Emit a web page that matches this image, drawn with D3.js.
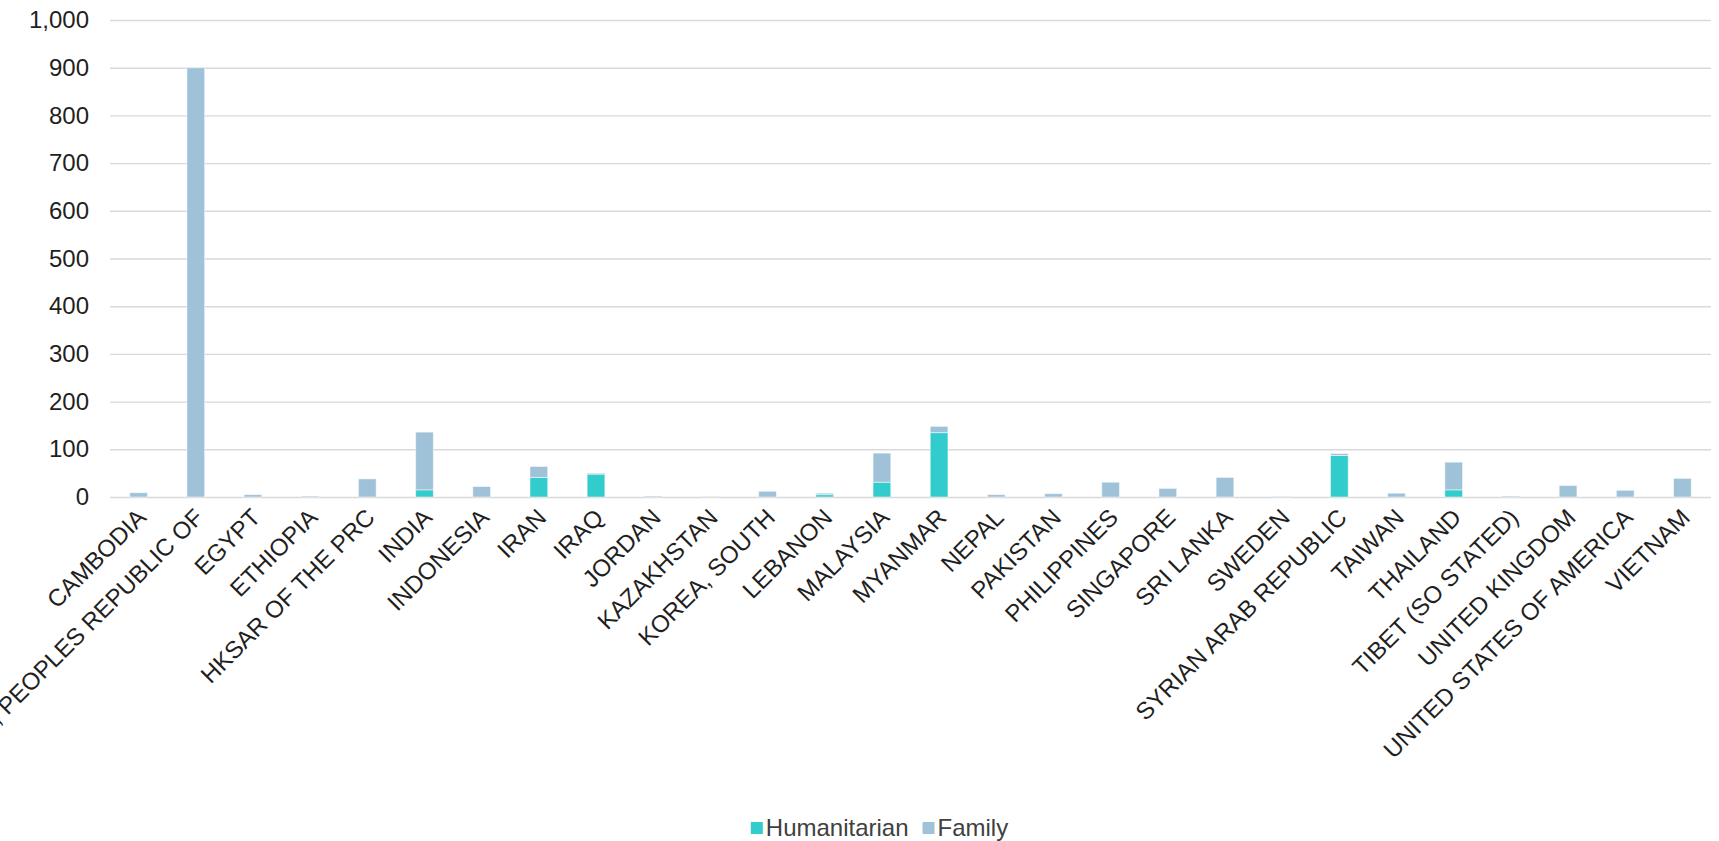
<!DOCTYPE html>
<html>
<head>
<meta charset="utf-8">
<script src="https://cdn.jsdelivr.net/npm/d3@7"></script>
<style>
  html, body { margin: 0; padding: 0; background: #fff; }
  svg { display: block; font-family: "Liberation Sans", Arial, sans-serif; }
</style>
</head>
<body>
<svg id="chart" width="1719" height="841"></svg>
<script>
const categories = ["CAMBODIA", "CHINA, PEOPLES REPUBLIC OF", "EGYPT", "ETHIOPIA", "HKSAR OF THE PRC",
  "INDIA", "INDONESIA", "IRAN", "IRAQ", "JORDAN", "KAZAKHSTAN", "KOREA, SOUTH", "LEBANON",
  "MALAYSIA", "MYANMAR", "NEPAL", "PAKISTAN", "PHILIPPINES", "SINGAPORE", "SRI LANKA", "SWEDEN",
  "SYRIAN ARAB REPUBLIC", "TAIWAN", "THAILAND", "TIBET (SO STATED)", "UNITED KINGDOM",
  "UNITED STATES OF AMERICA", "VIETNAM"];
const humanitarian = [0, 0, 0, 0, 0, 15, 0, 41, 48, 0, 0, 0, 5, 31, 135, 0, 0, 0, 0, 0, 0, 87, 0, 15, 0, 0, 0, 0];
const family =       [9, 900, 5, 2, 38, 121, 22, 23, 2, 2, 1, 12, 3, 61, 13, 5, 7, 31, 18, 41, 1, 4, 8, 58, 2, 24, 14, 39];
const seriesNames = ["Humanitarian", "Family"];
const seriesColors = ["#33CCCC", "#9FC2D8"];
const yTicks = [0, 100, 200, 300, 400, 500, 600, 700, 800, 900, 1000];

const svg = d3.select("#chart");
const margin = { left: 110, right: 8, top: 20, bottom: 344 };
const W = 1719, H = 841;
const iw = W - margin.left - margin.right;
const ih = H - margin.top - margin.bottom;
const g = svg.append("g").attr("transform", `translate(${margin.left},${margin.top})`);
const FS = 24;

const x = d3.scaleBand().domain(categories).range([0, iw]).paddingInner(0.69).paddingOuter(0.345);
const y = d3.scaleLinear().domain([0, 1000]).range([ih, 0]);

// grid + y axis
const yAxis = g.append("g")
  .call(d3.axisLeft(y).tickValues(yTicks).tickFormat(d3.format(",")).tickSize(-iw).tickPadding(21));
yAxis.select(".domain").remove();
yAxis.selectAll(".tick line").attr("stroke", "#d9d9d9").attr("stroke-width", 1.4);
yAxis.selectAll(".tick text").attr("font-size", FS).attr("fill", "#1f1f1f")
  .attr("font-family", "'Liberation Sans', Arial, sans-serif");

// stacked data
const rows = categories.map((c, i) => ({ cat: c, Humanitarian: humanitarian[i], Family: family[i] }));
const stack = d3.stack().keys(seriesNames)(rows);

g.append("g").selectAll("g").data(stack).join("g")
  .attr("fill", (d, i) => seriesColors[i])
  .selectAll("rect").data(d => d).join("rect")
  .attr("x", d => x(d.data.cat))
  .attr("width", x.bandwidth())
  .attr("y", d => y(d[1]))
  .attr("height", d => Math.max(0, y(d[0]) - y(d[1])))
  .attr("stroke", "rgba(255,255,255,0.5)")
  .attr("stroke-width", 1);

// x labels
const xAxis = g.append("g").attr("transform", `translate(0,${ih})`)
  .call(d3.axisBottom(x).tickSize(0).tickPadding(0));
xAxis.select(".domain").remove();
xAxis.selectAll(".tick text")
  .attr("font-size", FS).attr("fill", "#1f1f1f")
  .attr("font-family", "'Liberation Sans', Arial, sans-serif")
  .attr("text-anchor", "end")
  .attr("dy", null)
  .attr("y", 0)
  .attr("transform", "translate(9,22) rotate(-45)");

// legend
const legend = svg.append("g").attr("transform", `translate(20, 828)`);
const items = legend.selectAll("g").data(seriesNames).join("g");
items.append("rect").attr("width", 12).attr("height", 12).attr("y", -6)
  .attr("fill", (d, i) => seriesColors[i]);
items.append("text").text(d => d).attr("x", 15).attr("dy", "0.35em")
  .attr("font-size", FS).attr("fill", "#404040");
const widths = [];
items.each(function () { widths.push(this.getBBox().width); });
const gap = 14;
const total = d3.sum(widths) + gap * (widths.length - 1);
let lx = (W - total) / 2;
items.attr("transform", (d, i) => {
  const t = `translate(${lx},0)`;
  lx += widths[i] + gap;
  return t;
});
</script>
</body>
</html>
